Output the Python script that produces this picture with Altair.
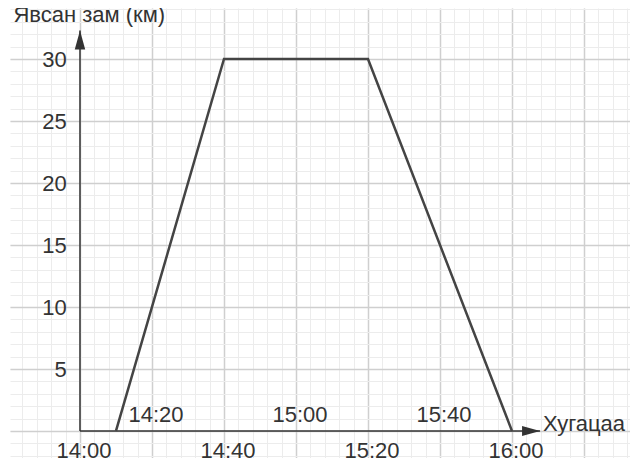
import altair as alt
import pandas as pd

# ---- data (time in minutes after 14:00, distance in km)
times = ["14:00", "14:20", "14:40", "15:00", "15:20", "15:40", "16:00"]
time_minutes = [0, 20, 40, 60, 80, 100, 120]
path_minutes = [10, 40, 80, 120]
path_km = [0, 30, 30, 0]
y_ticks = [5, 10, 15, 20, 25, 30]
y_title = "Явсан зам (км)"
x_title = "Хугацаа"

# axis extents (data units)
X_AXIS_END = 127.8
Y_AXIS_END = 32.3

X_DOMAIN = [-19.44, 152.78]
Y_DOMAIN = [-2.18, 34.11]
minor_x = list(range(-16, 153, 4))
major_x = list(range(0, 153, 20))
minor_y = list(range(-2, 35, 1))
major_y = list(range(0, 35, 5))

FONT = "Liberation Sans"
TXT = "#333333"

xs = alt.Scale(domain=X_DOMAIN, nice=False, zero=False)
ys = alt.Scale(domain=Y_DOMAIN, nice=False, zero=False)


def gaxis(values, color, width):
    return alt.Axis(values=values, grid=True, gridColor=color, gridWidth=width,
                    labels=False, ticks=False, domain=False, title=None)


path_df = pd.DataFrame({"m": path_minutes, "km": path_km})
time_df = pd.DataFrame({"m": time_minutes, "label": times,
                        "below": [i % 2 == 0 for i in range(len(times))]})
ytick_df = pd.DataFrame({"m": [0] * len(y_ticks), "km": y_ticks,
                         "label": [str(v) for v in y_ticks]})
yaxis_df = pd.DataFrame({"m": [0], "km": [0], "km2": [Y_AXIS_END]})
xaxis_df = pd.DataFrame({"m": [0], "m2": [X_AXIS_END], "km": [0]})

# minor grid (carried by y-axis line layer)
yaxis_line = alt.Chart(yaxis_df).mark_rule(color="#333333", strokeWidth=1.5).encode(
    x=alt.X("m:Q", scale=xs, axis=gaxis(minor_x, "#ececec", 1)),
    y=alt.Y("km:Q", scale=ys, axis=gaxis(minor_y, "#ececec", 1)),
    y2="km2:Q",
)

# major grid (carried by x-axis line layer)
xaxis_line = alt.Chart(xaxis_df).mark_rule(color="#333333", strokeWidth=1.5).encode(
    x=alt.X("m:Q", scale=xs, axis=gaxis(major_x, "#cfcfcf", 1.5)),
    x2="m2:Q",
    y=alt.Y("km:Q", scale=ys, axis=gaxis(major_y, "#cfcfcf", 1.5)),
)

X = alt.X("m:Q", scale=xs, axis=None)
Y = alt.Y("km:Q", scale=ys, axis=None)

line = alt.Chart(path_df).mark_line(color="#444444", strokeWidth=2.5).encode(x=X, y=Y)

y_arrow = alt.Chart(pd.DataFrame({"m": [0], "km": [Y_AXIS_END]})).mark_point(
    shape="M0,0L0.55,2L-0.55,2Z", filled=True, color="#333333", opacity=1, size=361
).encode(x=X, y=Y)

x_arrow = alt.Chart(pd.DataFrame({"m": [X_AXIS_END], "km": [0]})).mark_point(
    shape="M0,0L-2,-0.55L-2,0.55Z", filled=True, color="#333333", opacity=1, size=324
).encode(x=X, y=Y)

tbelow = alt.Chart(time_df).transform_filter("datum.below").mark_text(
    font=FONT, fontSize=22, color=TXT, align="center", baseline="alphabetic", dx=4, dy=27.5
).encode(x=X, y=alt.Y("k:Q", scale=ys, axis=None), text="label:N").transform_calculate(k="0")

tabove = alt.Chart(time_df).transform_filter("!datum.below").mark_text(
    font=FONT, fontSize=22, color=TXT, align="center", baseline="alphabetic", dx=4, dy=-9
).encode(x=X, y=alt.Y("k:Q", scale=ys, axis=None), text="label:N").transform_calculate(k="0")

ylabels = alt.Chart(ytick_df).mark_text(
    font=FONT, fontSize=22, color=TXT, align="right", baseline="alphabetic", dx=-13.3, dy=8.5
).encode(x=X, y=Y, text="label:N")

ytitle = alt.Chart(pd.DataFrame({"m": [-18.5], "km": [33.0], "label": [y_title]})).mark_text(
    font=FONT, fontSize=22, color=TXT, align="left", baseline="alphabetic"
).encode(x=X, y=Y, text="label:N")

xtitle = alt.Chart(pd.DataFrame({"m": [128.6], "km": [0], "label": [x_title]})).mark_text(
    font=FONT, fontSize=22, color=TXT, align="left", baseline="alphabetic"
).encode(x=X, y=Y, text="label:N")

chart = alt.layer(
    yaxis_line, xaxis_line, line, y_arrow, x_arrow, tbelow, tabove, ylabels, ytitle, xtitle
).resolve_axis(x="independent", y="independent").properties(
    width=620, height=450,
    padding={"left": 2, "top": 0, "right": 0, "bottom": 0},
    autosize=alt.AutoSizeParams(type="none"),
    background="white",
).configure_view(stroke=None)

chart.save("out.html", embed_options={"renderer": "svg", "actions": False})
